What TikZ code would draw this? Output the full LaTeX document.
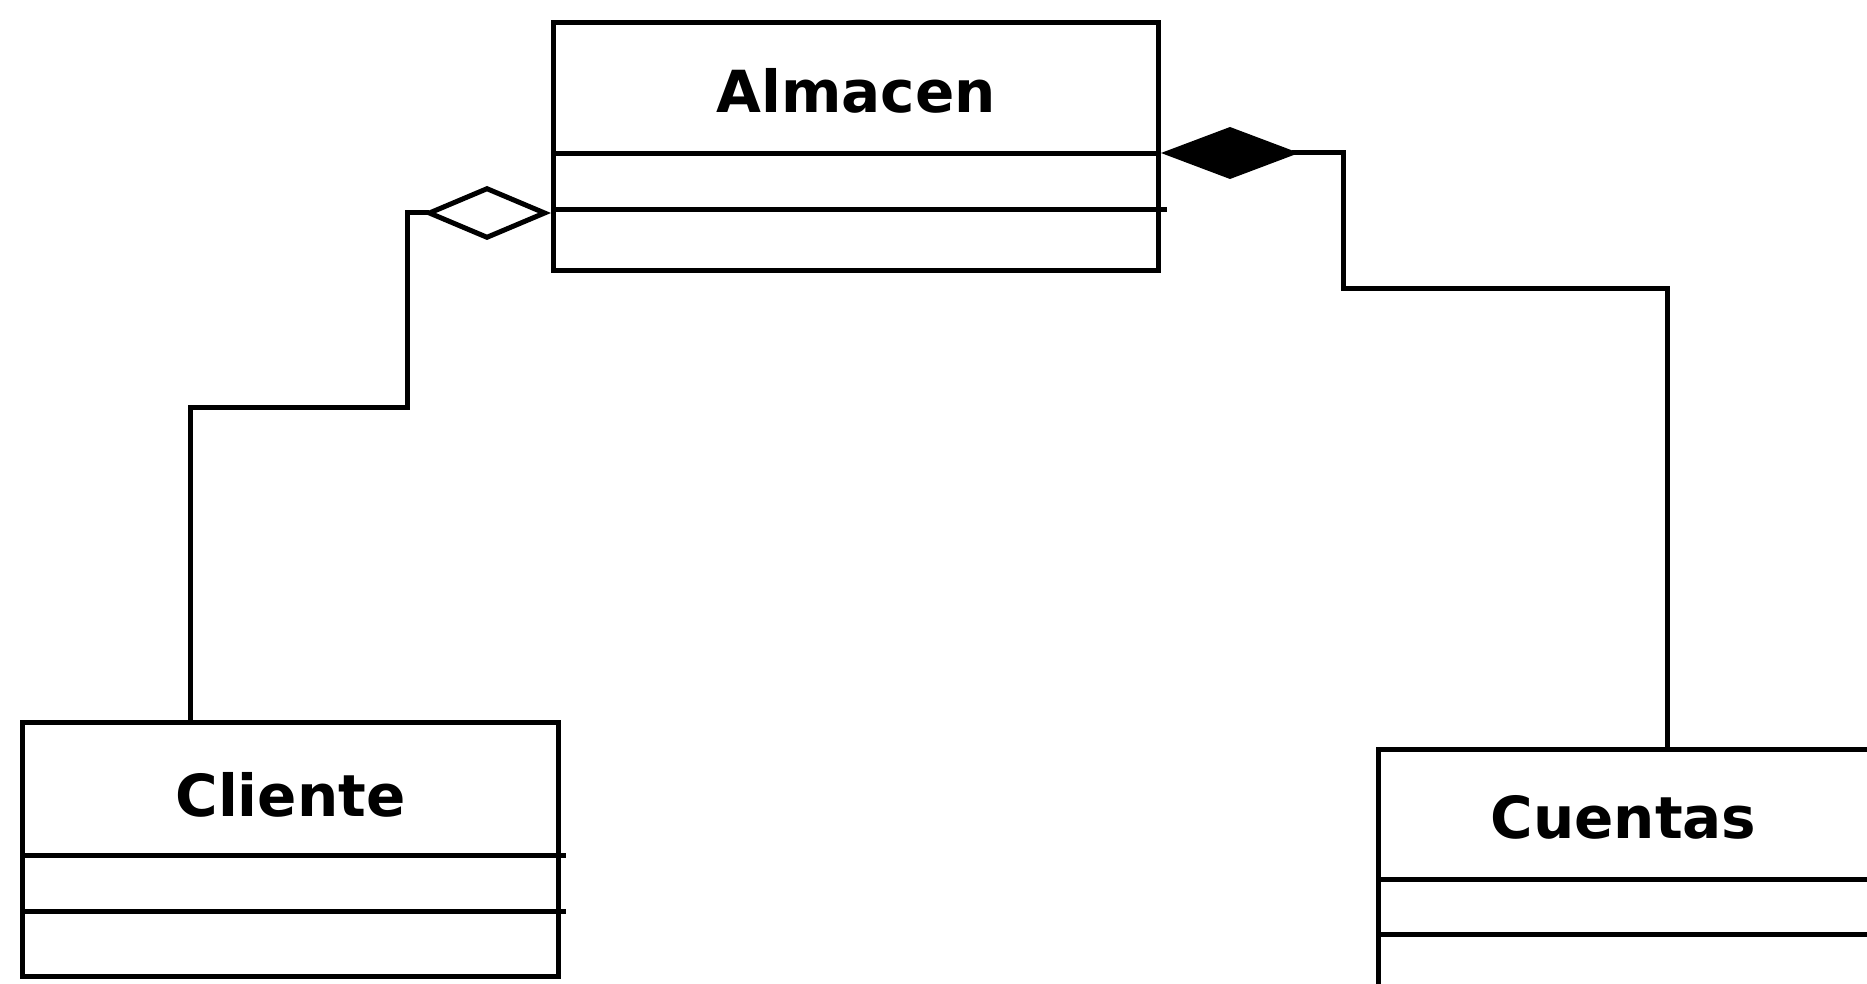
\documentclass[tikz,border=0pt]{standalone}
\usepackage{fontspec}
\setmainfont{DejaVu Sans}
\usetikzlibrary{arrows.meta,calc}
\begin{document}
\begin{tikzpicture}[x=1pt, y=-1pt, line width=5pt,
  classbox/.style={draw, rectangle, anchor=north west, inner sep=0pt,
    minimum width=#1, minimum height=254pt},
  classname/.style={anchor=base, inner sep=0pt,
    font=\fontsize{58}{60}\selectfont\bfseries},
  aggregation/.style={-{Diamond[open, length=128pt, width=54pt]}},
  composition/.style={-{Diamond[length=138pt, width=52pt]}}
]
% canvas
\clip (0,0) rectangle (1867,984);
\fill[white] (0,0) rectangle (1867,984);

% class boxes
\node[classbox=605pt, minimum height=248pt] (almacen) at (551,20) {};
\node[classbox=536pt] (cliente) at (20,720) {};
\node[classbox=510pt] (cuentas) at (1376,747) {};

% class names
\node[classname] (almacenName) at ($(almacen.north)+(0,93)$) {Almacen};
\node[classname] (clienteName) at ($(cliente.north)+(0,96)$) {Cliente};
\node[classname] (cuentasName) at ($(cuentas.north)+(-10,91)$) {Cuentas};

% compartment separators
\draw ($(almacen.north west)+(0,134)$) -- ($(almacen.north east)+(0,134)$);
\draw ($(almacen.north west)+(0,190)$) -- ($(almacen.north east)+(6,190)$);
\draw ($(cliente.north west)+(0,135)$) -- ($(cliente.north east)+(5,135)$);
\draw ($(cliente.north west)+(0,191)$) -- ($(cliente.north east)+(5,191)$);
\draw ($(cuentas.north west)+(0,132)$) -- ($(cuentas.north east)+(0,132)$);
\draw ($(cuentas.north west)+(0,187)$) -- ($(cuentas.north east)+(0,187)$);

% connector ends and bends
\coordinate (clienteTop) at ($(cliente.north west)+(170,0)$);
\coordinate (aggBend) at (407,407);
\coordinate (aggEnd) at ($(almacen.north west)+(0,193)$);
\coordinate (cuentasTop) at ($(cuentas.north west)+(291,0)$);
\coordinate (compBend) at (1343,288);
\coordinate (compEnd) at ($(almacen.north east)+(0,133)$);

% Almacen aggregates Cliente
\draw[aggregation] (clienteTop) |- (aggBend) |- (aggEnd);
% Almacen is composed of Cuentas
\draw[composition] (cuentasTop) |- (compBend) |- (compEnd);
\end{tikzpicture}
\end{document}
